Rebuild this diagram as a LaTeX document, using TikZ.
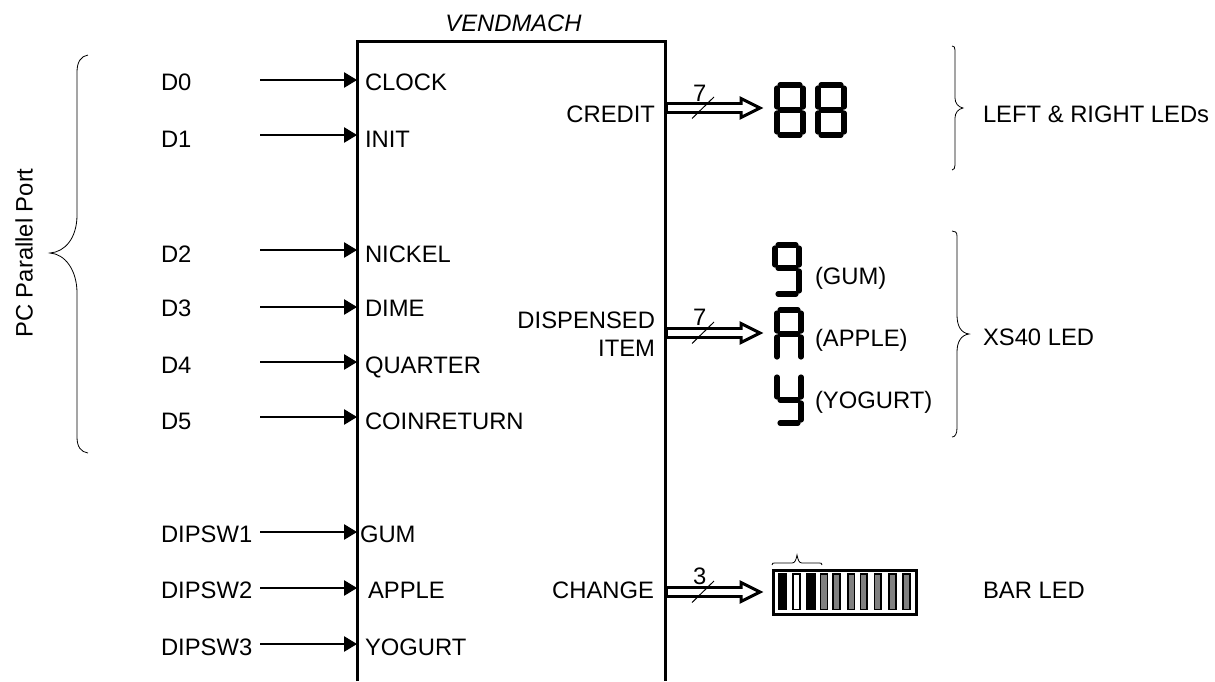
\documentclass[tikz,border=0pt]{standalone}
\usepackage{fontspec}
\setmainfont{Liberation Sans}
\usetikzlibrary{arrows.meta}
\tikzset{
  x=1pt,y=-1pt,
  every node/.style={font=\fontsize{23.8}{26}\selectfont,inner sep=0pt,outer sep=0pt,text=black},
  lbl/.style={anchor=base west},
  lblr/.style={anchor=base east},
  sig/.style={line width=1.1pt,-{Triangle[length=13pt,width=15.5pt]}},
  box/.style={line width=3pt},
  brace/.style={line width=0.8pt},
  seg/.style={line width=5.2pt,line cap=round},
}
\newcommand{\busarrow}[4]{% name, y, label, label offset
  \coordinate (#1s) at (665,#2);
  \coordinate (#1e) at (742,#2);
  \coordinate (#1t) at (760,#2);
  \draw[line width=11.4pt] (#1s) -- (#1e);
  \draw[line width=5.2pt,white] (#1s) ++(3,0) -- (#1e);
  \draw[line width=3pt,fill=white,miter limit=10] (741,#2-9.5) -- (#1t) -- (741,#2+9.5) -- cycle;
  \draw[line width=5.2pt,white] (735,#2) -- (744,#2);
  \draw[line width=1pt] (692,#2+10.5) -- (714,#2-11);
  \node[lbl] (#1n) at (693,#2-#4) {#3};
}
\begin{document}
\begin{tikzpicture}
\useasboundingbox (0,0) rectangle (1215,681);
% main box
\coordinate (bl) at (357,681);
\coordinate (tl) at (357,41);
\coordinate (tr) at (665,41);
\coordinate (br) at (665,681);
\draw[box,line join=miter] (bl) -- (tl) -- (tr) -- (br);
\node[font=\fontsize{23.8}{26}\selectfont\itshape] (title) at (513.5,23) {VENDMACH};
% inputs
\foreach \nm/\src/\port/\py/\ty/\px/\sx in {
 a/D0/CLOCK/80/90.5/365/161,
 b/D1/INIT/135/147.5/365/161,
 c/D2/NICKEL/250/262.5/365/161,
 d/D3/DIME/307/316.5/365/161,
 e/D4/QUARTER/362/373.5/365/161,
 f/D5/COINRETURN/417/429.5/365/161,
 g/DIPSW1/GUM/532/542.5/360/161,
 h/DIPSW2/APPLE/588/598.5/368/161,
 i/DIPSW3/YOGURT/644/655.5/365/161}{
  \node[lbl] (src\nm) at (\sx,\ty) {\src};
  \node[lbl] (port\nm) at (\px,\ty) {\port};
  \coordinate (from\nm) at (260,\py);
  \coordinate (to\nm) at (357,\py);
  \draw[sig] (from\nm) -- (to\nm);
}
% outputs
\node[lblr] (credit) at (655,122.5) {CREDIT};
\node[lblr] (disp) at (655,328.5) {DISPENSED};
\node[lblr] (item) at (655,356.5) {ITEM};
\node[lblr] (change) at (654,598.5) {CHANGE};
\busarrow{A}{108}{7}{7}
\busarrow{B}{333}{7}{8}
\busarrow{C}{592}{3}{8}
% 88
\foreach \xa/\xb in {777/803,818/844}{
  \draw[seg] (\xa+3,85) -- (\xb-3,85);
  \draw[seg] (\xa+3,110) -- (\xb-3,110);
  \draw[seg] (\xa+3,135) -- (\xb-3,135);
  \draw[seg] (\xa,88) -- (\xa,107);
  \draw[seg] (\xb,88) -- (\xb,107);
  \draw[seg] (\xa,113) -- (\xa,132);
  \draw[seg] (\xb,113) -- (\xb,132);
}
% 9
\draw[seg] (778,245) -- (796,245);
\draw[seg] (778,268) -- (796,268);
\draw[seg] (778,294) -- (796,294);
\draw[seg] (775,248) -- (775,265);
\draw[seg] (799,248) -- (799,265);
\draw[seg] (799,271) -- (799,291);
% A
\draw[seg] (780,310) -- (798,310);
\draw[seg] (780,334) -- (798,334);
\draw[seg] (777,313) -- (777,331);
\draw[seg] (801,313) -- (801,331);
\draw[seg] (777,337) -- (777,357);
\draw[seg] (801,337) -- (801,357);
% y
\draw[seg] (780,400) -- (798,400);
\draw[seg] (780,423) -- (798,423);
\draw[seg] (777,377) -- (777,397);
\draw[seg] (801,377) -- (801,397);
\draw[seg] (801,403) -- (801,420);
\node[lbl] (gum) at (815,284.5) {(GUM)};
\node[lbl] (apple) at (815,346.5) {(APPLE)};
\node[lbl] (yogurt) at (815,408.5) {(YOGURT)};
% bar LED
\draw[line width=3pt] (773,570.5) rectangle (916,614);
\foreach \xa/\xb/\col in {778.5/786.5/black,793/800/white,807/815/black,820.5/827.5/gray,833/840/gray,848/854.5/gray,860.5/867/gray,874.5/881/gray,889/896/gray,903/910/gray}{
  \draw[line width=1.3pt,fill=\col] (\xa,574) rectangle (\xb,609.5);
}
\draw[brace] (772,565) .. controls (772,563) and (773,563) .. (775,563) -- (792,563) .. controls (795,563) and (796,560) .. (797,555) .. controls (798,560) and (799,563) .. (802,563) -- (819,563) .. controls (821,563) and (822,563) .. (822,565);
\node[lbl] (barled) at (983,598.5) {BAR LED};
% braces
\draw[brace] (88,55) .. controls (81,56) and (77,62) .. (77,72) -- (77,215) .. controls (77,238) and (65,252) .. (50,253) .. controls (65,254) and (77,270) .. (77,293) -- (77,437) .. controls (77,447) and (81,452) .. (88,453);
\node[rotate=90] (pc) at (24,253) {PC Parallel Port};
\draw[brace] (952,46) .. controls (954,46) and (955,47) .. (955,50) -- (955,98) .. controls (955,103) and (958,107) .. (963,108) .. controls (958,109) and (955,113) .. (955,118) -- (955,165) .. controls (955,168) and (954,170) .. (952,170);
\node[lbl] (lr) at (983,122.5) {LEFT \& RIGHT LEDs};
\draw[brace] (952,231) .. controls (955,231) and (957,232) .. (957,236) -- (957,315) .. controls (957,326) and (961,333) .. (969,334) .. controls (961,335) and (957,342) .. (957,352) -- (957,428) .. controls (957,434) and (955,437) .. (952,437);
\node[lbl] (xs) at (983,345) {XS40 LED};
\end{tikzpicture}
\end{document}
